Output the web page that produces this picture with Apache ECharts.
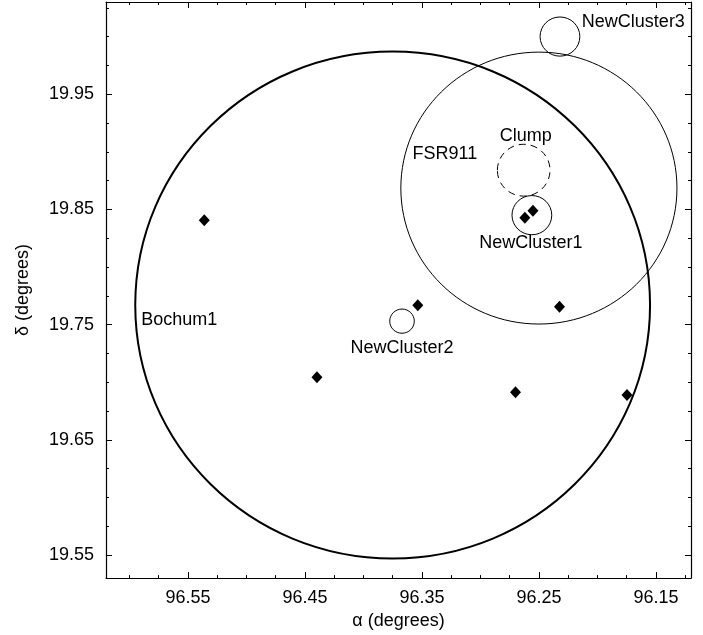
<!DOCTYPE html>
<html>
<head>
<meta charset="utf-8">
<script src="https://cdn.jsdelivr.net/npm/echarts@6/dist/echarts.min.js"></script>
<style>
html,body{margin:0;padding:0;background:#fff;}
#chart{width:703px;height:635px;}
</style>
</head>
<body>
<div id="chart"></div>
<script>
// ---- data ----
const circleNames  = ['Bochum1', 'FSR911', 'Clump', 'NewCluster1', 'NewCluster2', 'NewCluster3'];
const circleRA     = [96.375, 96.250, 96.263, 96.256, 96.367, 96.232];
const circleDec    = [19.767, 19.8685, 19.884, 19.845, 19.753, 20.000];
const circleRadius = [0.220, 0.118, 0.0225, 0.017, 0.0105, 0.017];

const starRA  = [96.536, 96.3535, 96.4397, 96.2324, 96.270, 96.1747, 96.262, 96.2551];
const starDec = [19.8405, 19.7667, 19.7043, 19.7655, 19.6914, 19.689, 19.8428, 19.8489];

const xMajorTicks = [96.55, 96.45, 96.35, 96.25, 96.15];
const xMinorTicks = [96.6, 96.575, 96.525, 96.5, 96.475, 96.425, 96.4, 96.375, 96.325, 96.3, 96.275, 96.225, 96.2, 96.175, 96.125];
const yMajorTicks = [19.55, 19.65, 19.75, 19.85, 19.95];
const yMinorTicks = [19.575, 19.6, 19.625, 19.675, 19.7, 19.725, 19.775, 19.8, 19.825, 19.875, 19.9, 19.925, 19.975, 20.0, 20.025];

// ---- styles (not data) ----
const circleStyle = {
  'Bochum1':     {lw: 2,   dash: null,  dx: 'left', dy: 15, align: 'left'},
  'FSR911':      {lw: 1,   dash: null,  dx: -94, dy: -34, align: 'center'},
  'Clump':       {lw: 1,   dash: [7, 5], dx: 2,  dy: -34, align: 'center'},
  'NewCluster1': {lw: 1,   dash: null,  dx: -1, dy: 28, align: 'center'},
  'NewCluster2': {lw: 1,   dash: null,  dx: 0,  dy: 27, align: 'center'},
  'NewCluster3': {lw: 1,   dash: null,  dx: 'right', dy: -15, align: 'left'}
};

const FONT = '"Liberation Sans", Arial, Helvetica, sans-serif';
const X_MIN = 96.12, X_MAX = 96.62, Y_MIN = 19.53, Y_MAX = 20.03;

function xAxisDef(pos, ticks, len, showLine, showLabel) {
  return {
    type: 'value', inverse: true, min: X_MIN, max: X_MAX, position: pos,
    gridIndex: 0,
    axisLine: {show: showLine, onZero: false, lineStyle: {color: '#000', width: 1.2}},
    axisTick: {show: true, inside: true, length: len, customValues: ticks, lineStyle: {color: '#000', width: 1}},
    axisLabel: showLabel ? {show: true, customValues: ticks, color: '#000', fontSize: 18, fontFamily: FONT, margin: 11,
      formatter: v => Number(v).toFixed(2)} : {show: false},
    splitLine: {show: false},
    name: showLabel ? 'α (degrees)' : '',
    nameLocation: 'middle', nameGap: 30,
    nameTextStyle: {color: '#000', fontSize: 18, fontFamily: FONT}
  };
}
function yAxisDef(pos, ticks, len, showLine, showLabel) {
  return {
    type: 'value', min: Y_MIN, max: Y_MAX, position: pos,
    gridIndex: 0,
    axisLine: {show: showLine, onZero: false, lineStyle: {color: '#000', width: 1.2}},
    axisTick: {show: true, inside: true, length: len, customValues: ticks, lineStyle: {color: '#000', width: 1}},
    axisLabel: showLabel ? {show: true, customValues: ticks, color: '#000', fontSize: 18, fontFamily: FONT, margin: 12,
      formatter: v => Number(v).toFixed(2)} : {show: false},
    splitLine: {show: false},
    name: showLabel ? 'δ (degrees)' : '',
    nameLocation: 'middle', nameGap: 74,
    nameTextStyle: {color: '#000', fontSize: 18, fontFamily: FONT}
  };
}

const chart = echarts.init(document.getElementById('chart'), null, {renderer: 'canvas'});

const circleData = circleNames.map((n, i) => [circleRA[i], circleDec[i], circleRadius[i], n]);
const starData = starRA.map((a, i) => [a, starDec[i]]);

chart.setOption({
  backgroundColor: '#fff',
  animation: false,
  grid: {left: 106, right: 12, top: 2, bottom: 53, containLabel: false},
  xAxis: [
    xAxisDef('bottom', xMajorTicks, 6, true, true),
    xAxisDef('bottom', xMinorTicks, 3, false, false),
    xAxisDef('top', xMajorTicks, 6, true, false),
    xAxisDef('top', xMinorTicks, 3, false, false)
  ],
  yAxis: [
    yAxisDef('left', yMajorTicks, 6, true, true),
    yAxisDef('left', yMinorTicks, 3, false, false),
    yAxisDef('right', yMajorTicks, 6, true, false),
    yAxisDef('right', yMinorTicks, 3, false, false)
  ],
  series: [
    {
      type: 'custom',
      xAxisIndex: 0, yAxisIndex: 0,
      clip: false,
      data: circleData,
      renderItem: function (params, api) {
        const name = circleNames[params.dataIndex];
        const st = circleStyle[name];
        const c = api.coord([api.value(0), api.value(1)]);
        const s = api.size([api.value(2), api.value(2)]);
        const rx = Math.abs(s[0]), ry = Math.abs(s[1]);
        let tx;
        if (st.dx === 'left') tx = c[0] - rx + 6;
        else if (st.dx === 'right') tx = c[0] + rx + 2;
        else tx = c[0] + st.dx;
        return {
          type: 'group',
          children: [
            {
              type: 'ellipse',
              shape: {cx: c[0], cy: c[1], rx: rx, ry: ry},
              style: {fill: 'none', stroke: '#000', lineWidth: st.lw, lineDash: st.dash || null}
            },
            {
              type: 'text',
              style: {
                text: name, x: tx, y: c[1] + st.dy,
                fill: '#000', font: '18px ' + FONT,
                align: st.align, verticalAlign: 'middle'
              }
            }
          ]
        };
      }
    },
    {
      type: 'scatter',
      xAxisIndex: 0, yAxisIndex: 0,
      symbol: 'diamond',
      symbolSize: [11, 12],
      itemStyle: {color: '#000', opacity: 1},
      emphasis: {disabled: true},
      data: starData,
      z: 5
    }
  ]
});
</script>
</body>
</html>
